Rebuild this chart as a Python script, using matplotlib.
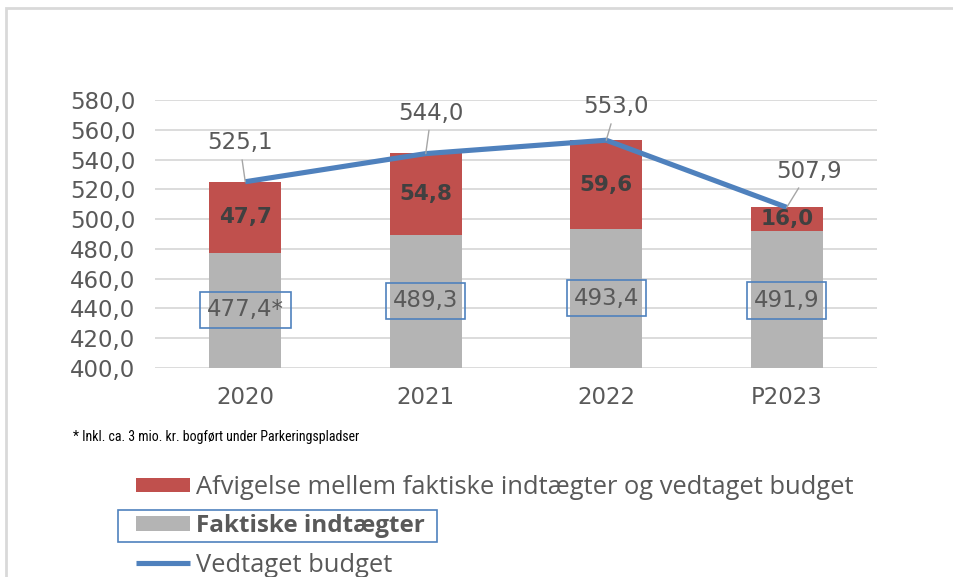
import matplotlib.pyplot as plt
from matplotlib.patches import Rectangle

years = ['2020', '2021', '2022', 'P2023']
faktiske = [477.4, 489.3, 493.4, 491.9]
afvigelse = [47.7, 54.8, 59.6, 16.0]
budget = [525.1, 544.0, 553.0, 507.9]
faktiske_labels = ['477,4*', '489,3', '493,4', '491,9']
afvigelse_labels = ['47,7', '54,8', '59,6', '16,0']
budget_labels = ['525,1', '544,0', '553,0', '507,9']
ylim = (400, 580)

GRAY_TXT = '#595959'
RED = '#c0504d'
GRAY = '#b4b4b4'
BLUE = '#4f81bd'
plt.rcParams['font.family'] = ['DejaVu Sans']
LEG_FONT = ['Open Sans', 'DejaVu Sans']

fig = plt.figure(figsize=(9.54, 5.77), dpi=100)
ax = fig.add_axes([155 / 954, 1 - 368 / 577, 722 / 954, 268 / 577])

x = range(len(years))
base = ylim[0]
grey_bars = ax.bar(x, [v - base for v in faktiske], bottom=base, width=0.4,
                   color=GRAY, label='Faktiske indtægter', zorder=2)
red_bars = ax.bar(x, afvigelse, bottom=faktiske, width=0.4, color=RED,
                  label='Afvigelse mellem faktiske indtægter og vedtaget budget', zorder=2)
line, = ax.plot(x, budget, color=BLUE, lw=3.7, label='Vedtaget budget', zorder=3,
                solid_capstyle='butt')

ax.set_ylim(*ylim)
ax.set_xlim(-0.5, len(years) - 0.5)
ax.set_yticks(range(400, 581, 20))
ax.set_yticklabels([f'{v},0' for v in range(400, 581, 20)])
ax.set_xticks(list(x))
ax.set_xticklabels(years)
ax.tick_params(length=0, labelsize=16.5, colors=GRAY_TXT)
ax.tick_params(axis='y', pad=14)
ax.tick_params(axis='x', pad=13)
ax.grid(axis='y', color='#d9d9d9', lw=1.3, zorder=0)
for s in ax.spines.values():
    s.set_visible(False)

# deviation labels in the red segments
for i in x:
    ax.text(i, faktiske[i] + afvigelse[i] / 2, afvigelse_labels[i], ha='center', va='center',
            fontsize=15.5, fontweight='bold', color='#404040', zorder=4)

# actual income labels in boxes
label_y = [439, 445, 447, 445.5]
for i in x:
    ax.text(i, label_y[i], faktiske_labels[i], ha='center', va='center', fontsize=16.5,
            color=GRAY_TXT, zorder=4,
            bbox=dict(boxstyle='square,pad=0.3', fc='none', ec=BLUE, lw=1.2))

# budget labels with leader lines
offsets = [(-4, 28), (4, 29), (7, 24), (16, 26)]
for i in x:
    ax.annotate(budget_labels[i], xy=(i, budget[i]), xytext=offsets[i], textcoords='offset points',
                ha='center', va='center', fontsize=16.5, color=GRAY_TXT, zorder=5,
                arrowprops=dict(arrowstyle='-', color='#a6a6a6', lw=1, shrinkA=2, shrinkB=0))

fig.text(73 / 954, 1 - 437 / 577, '* Inkl. ca. 3 mio. kr. bogført under Parkeringspladser',
         fontsize=10, color='black', va='center',
         family=['Liberation Sans Narrow', 'Roboto Condensed', 'Lato', 'DejaVu Sans'])

leg = fig.legend(handles=[red_bars, grey_bars, line], loc='upper left',
                 bbox_to_anchor=(136 / 954, 1 - 475 / 577), frameon=False,
                 prop={'family': LEG_FONT, 'size': 18.4},
                 handlelength=2.1, handleheight=0.5, handletextpad=0.25, labelspacing=0.56,
                 borderaxespad=0, borderpad=0)
for t in leg.get_texts():
    t.set_color(GRAY_TXT)
leg.get_texts()[1].set_fontweight('bold')
leg.get_texts()[1].set_fontsize(17.5)

# box around the second legend entry
fig.add_artist(Rectangle((118 / 954, 1 - 542 / 577), 319 / 954, 32 / 577,
                         transform=fig.transFigure, fill=False, ec=BLUE, lw=1.2))
# outer chart frame
fig.add_artist(Rectangle((6 / 954, -0.05), 1.0, 1 - 8 / 577 + 0.05,
                         transform=fig.transFigure, fill=False, ec='#d9d9d9', lw=2))

fig.savefig('out.png', dpi=100)
